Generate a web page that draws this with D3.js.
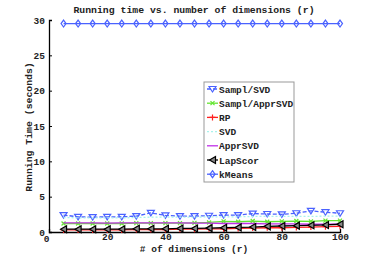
<!DOCTYPE html>
<html>
<head>
<meta charset="utf-8">
<title>Running time vs. dimensions</title>
<script src="https://cdn.jsdelivr.net/npm/d3@7"></script>
<style>
  body { margin: 0; background: white; }
  svg { font-family: "Liberation Mono", "DejaVu Sans Mono", monospace; font-weight: bold; }
</style>
</head>
<body>
<svg id="chart" width="374" height="260"></svg>
<script>
// x positions (r)
var dims = [5, 10, 15, 20, 25, 30, 35, 40, 45, 50, 55, 60, 65, 70, 75, 80, 85, 90, 95, 100];

// running times (seconds)
var samplSVD     = [2.4, 2.15, 2.1, 2.15, 2.15, 2.25, 2.7, 2.35, 2.25, 2.25, 2.3, 2.4, 2.4, 2.6, 2.55, 2.5, 2.65, 3.0, 2.8, 2.65];
var samplApprSVD = [1.2, 1.2, 1.2, 1.2, 1.2, 1.25, 1.25, 1.25, 1.25, 1.3, 1.35, 1.5, 1.45, 1.55, 1.45, 1.5, 1.55, 1.5, 1.6, 1.6];
var rp           = [0.3, 0.3, 0.3, 0.3, 0.3, 0.35, 0.35, 0.35, 0.4, 0.4, 0.45, 0.45, 0.5, 0.55, 0.6, 0.6, 0.65, 0.7, 0.75, 0.8];
var svd          = [2.05, 2.0, 2.0, 2.0, 2.0, 2.05, 2.1, 2.1, 2.1, 2.1, 2.15, 2.15, 2.15, 2.2, 2.2, 2.2, 2.2, 2.2, 2.25, 2.25];
var apprSVD      = [1.3, 1.3, 1.3, 1.25, 1.3, 1.3, 1.3, 1.3, 1.3, 1.25, 1.25, 1.2, 1.2, 1.2, 1.15, 1.15, 1.15, 1.1, 1.1, 1.1];
var lapScor      = [0.4, 0.4, 0.4, 0.4, 0.4, 0.45, 0.45, 0.45, 0.5, 0.5, 0.55, 0.6, 0.65, 0.7, 0.8, 0.85, 0.9, 0.95, 1.0, 1.1];
var kMeans       = [29.5, 29.5, 29.5, 29.5, 29.5, 29.5, 29.5, 29.5, 29.5, 29.5, 29.5, 29.5, 29.5, 29.5, 29.5, 29.5, 29.5, 29.5, 29.5, 29.5];

var xTicks = [0, 20, 40, 60, 80, 100];
var yTicks = [0, 5, 10, 15, 20, 25, 30];

var series = [
  { name: "Sampl/SVD",     values: samplSVD,     color: "#4a62ff", marker: "tridown", dash: "4,2" },
  { name: "Sampl/ApprSVD", values: samplApprSVD, color: "#66e533", marker: "x",       dash: null },
  { name: "RP",            values: rp,           color: "#ff2020", marker: "plus",    dash: null },
  { name: "SVD",           values: svd,          color: "#a8f2ec", marker: null,      dash: "2,2" },
  { name: "ApprSVD",       values: apprSVD,      color: "#c030e8", marker: null,      dash: null },
  { name: "LapScor",       values: lapScor,      color: "#000000", marker: "trileft", dash: null },
  { name: "kMeans",        values: kMeans,       color: "#4a62ff", marker: "diamond", dash: null }
];

var svg = d3.select("#chart");
var x = d3.scaleLinear().domain([0, 100]).range([49, 340]);
var y = d3.scaleLinear().domain([0, 30]).range([232, 20]);

// axes, MATLAB style ticks inside
var xAxis = d3.axisBottom(x).tickValues(xTicks).tickSize(-3).tickPadding(1);
var yAxis = d3.axisLeft(y).tickValues(yTicks).tickSize(-3).tickPadding(4);

var gx = svg.append("g").attr("transform", "translate(0,232)").call(xAxis);
var gy = svg.append("g").attr("transform", "translate(49,0)").call(yAxis);
[gx, gy].forEach(function (g) {
  g.select(".domain").attr("stroke", "#000").attr("stroke-width", 1.3);
  g.selectAll(".tick line").attr("stroke", "#000");
  g.selectAll("text").attr("font-family", "Liberation Mono").attr("font-weight", "bold")
    .attr("font-size", 9.5).attr("fill", "#222");
});
gx.select(".tick text").attr("dx", -3).attr("dy", "0.9em");

function markerPath(type, cx, cy) {
  var s = 3;
  if (type === "tridown") return "M" + (cx - 3.5) + "," + (cy - 2.5) + "L" + (cx + 3.5) + "," + (cy - 2.5) + "L" + cx + "," + (cy + 3) + "Z";
  if (type === "trileft") return "M" + (cx + 3) + "," + (cy - 3.5) + "L" + (cx + 3) + "," + (cy + 3.5) + "L" + (cx - 3) + "," + cy + "Z";
  if (type === "diamond") return "M" + cx + "," + (cy - 3.5) + "L" + (cx + 2.5) + "," + cy + "L" + cx + "," + (cy + 3.5) + "L" + (cx - 2.5) + "," + cy + "Z";
  if (type === "x") return "M" + (cx - 2) + "," + (cy - 2) + "L" + (cx + 2) + "," + (cy + 2) + "M" + (cx - 2) + "," + (cy + 2) + "L" + (cx + 2) + "," + (cy - 2);
  if (type === "plus") return "M" + (cx - s) + "," + cy + "L" + (cx + s) + "," + cy + "M" + cx + "," + (cy - s) + "L" + cx + "," + (cy + s);
  return "";
}

var line = d3.line().x(function (d) { return x(d[0]); }).y(function (d) { return y(d[1]); });

series.forEach(function (s) {
  var pts = dims.map(function (d, i) { return [d, s.values[i]]; });
  svg.append("path").datum(pts).attr("d", line)
    .attr("fill", "none").attr("stroke", s.color).attr("stroke-width", 1.3)
    .attr("stroke-dasharray", s.dash);
  if (s.marker) {
    svg.selectAll(null).data(pts).enter().append("path")
      .attr("d", function (d) { return markerPath(s.marker, x(d[0]), y(d[1])); })
      .attr("fill", s.marker === "trileft" ? "#888" : "none")
      .attr("stroke", s.color).attr("stroke-width", 1.2);
  }
});

// title and labels
svg.append("text").attr("x", 194).attr("y", 13).attr("text-anchor", "middle")
  .attr("font-size", 9.8).attr("fill", "#222").text("Running time vs. number of dimensions (r)");
svg.append("text").attr("x", 194).attr("y", 251.5).attr("text-anchor", "middle")
  .attr("font-size", 9.5).attr("fill", "#222").text("# of dimensions (r)");
svg.append("text").attr("transform", "translate(32,127) rotate(-90)").attr("text-anchor", "middle")
  .attr("font-size", 9.8).attr("fill", "#222").text("Running Time (seconds)");

// legend
var lg = svg.append("g");
lg.append("rect").attr("x", 204).attr("y", 82).attr("width", 90).attr("height", 100)
  .attr("fill", "white").attr("stroke", "#999").attr("stroke-width", 1);
series.forEach(function (s, i) {
  var ly = 89 + i * 14.2;
  lg.append("line").attr("x1", 207).attr("x2", 218).attr("y1", ly).attr("y2", ly)
    .attr("stroke", s.color).attr("stroke-width", 1.3).attr("stroke-dasharray", s.dash);
  if (s.marker) {
    lg.append("path").attr("d", markerPath(s.marker, 212.5, ly))
      .attr("fill", s.marker === "trileft" ? "#888" : "none")
      .attr("stroke", s.color).attr("stroke-width", 1.2);
  }
  lg.append("text").attr("x", 219).attr("y", ly + 3.5).attr("font-size", 9.5)
    .attr("fill", "#222").text(s.name);
});
</script>
</body>
</html>
